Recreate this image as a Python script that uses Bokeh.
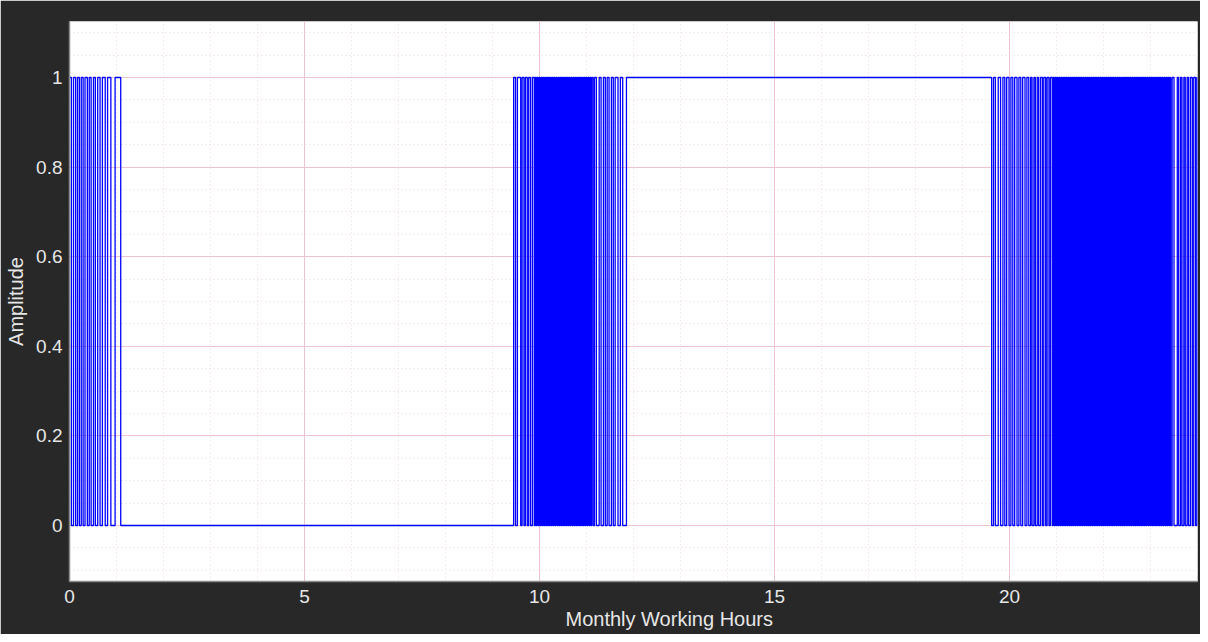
from bokeh.plotting import figure
from bokeh.models import FixedTicker, Range1d, Title
from bokeh.embed import file_html
from bokeh.resources import INLINE

# Switching signal: initial level and edge (transition) times in hours
initial_level = 1
edges_burst1 = [0.04, 0.085, 0.13, 0.17, 0.21, 0.25, 0.29, 0.33, 0.38, 0.42,
                0.46, 0.51, 0.55, 0.60, 0.65, 0.70, 0.76, 0.81, 0.88, 0.97, 1.09]
edges_burst2 = [9.45, 9.49, 9.53, 9.60, 9.63, 9.67, 9.70, 9.74, 9.77, 9.81, 9.85,
                9.89, 9.91, 9.93, 9.95, 9.97, 9.99, 10.01, 10.03, 10.05, 10.07,
                10.09, 10.11, 10.13, 10.15, 10.17, 10.19, 10.21, 10.23, 10.25, 10.27,
                10.29, 10.31, 10.33, 10.35, 10.37, 10.39, 10.41, 10.43, 10.45, 10.47,
                10.49, 10.51, 10.53, 10.55, 10.57, 10.59, 10.61, 10.63, 10.65, 10.67,
                10.69, 10.71, 10.73, 10.75, 10.77, 10.79, 10.81, 10.83, 10.85, 10.87,
                10.89, 10.91, 10.93, 10.95, 10.97, 10.99, 11.01, 11.03, 11.05, 11.07,
                11.09, 11.11, 11.14,
                11.17, 11.21, 11.27, 11.31, 11.36, 11.40, 11.44, 11.48, 11.53, 11.57,
                11.61, 11.67, 11.72, 11.77, 11.85]
edges_burst3 = [19.62, 19.66, 19.70, 19.76, 19.81, 19.86, 19.90, 19.94, 19.99, 20.03,
                20.07, 20.11, 20.16, 20.20, 20.24, 20.28, 20.33, 20.37, 20.41, 20.45,
                20.48, 20.52, 20.55, 20.59, 20.62, 20.66, 20.70, 20.73, 20.77, 20.80,
                20.84, 20.87, 20.91,
                20.93, 20.95, 20.97, 20.99, 21.01, 21.03, 21.05, 21.07, 21.09, 21.11,
                21.13, 21.15, 21.17, 21.19, 21.21, 21.23, 21.25, 21.27, 21.29, 21.31,
                21.33, 21.35, 21.37, 21.39, 21.41, 21.43, 21.45, 21.47, 21.49, 21.51,
                21.53, 21.55, 21.57, 21.59, 21.61, 21.63, 21.65, 21.67, 21.69, 21.71,
                21.73, 21.75, 21.77, 21.79, 21.81, 21.83, 21.85, 21.87, 21.89, 21.91,
                21.93, 21.95, 21.97, 21.99, 22.01, 22.03, 22.05, 22.07, 22.09, 22.11,
                22.13, 22.15, 22.17, 22.19, 22.21, 22.23, 22.25, 22.27, 22.29, 22.31,
                22.33, 22.35, 22.37, 22.39, 22.41, 22.43, 22.45, 22.47, 22.49, 22.51,
                22.53, 22.55, 22.57, 22.59, 22.61, 22.63, 22.65, 22.67, 22.69, 22.71,
                22.73, 22.75, 22.77, 22.79, 22.81, 22.83, 22.85, 22.87, 22.89, 22.91,
                22.93, 22.95, 22.97, 22.99, 23.01, 23.03, 23.05, 23.07, 23.09, 23.11,
                23.13, 23.15, 23.17, 23.19, 23.21, 23.23, 23.25, 23.27, 23.29, 23.31,
                23.33, 23.35, 23.37, 23.39, 23.41, 23.43,
                23.46, 23.50, 23.57, 23.60, 23.64, 23.67, 23.71, 23.74, 23.78, 23.81,
                23.85, 23.89, 23.92, 23.96, 23.99]
t_end = 24

x_ticks = [0, 5, 10, 15, 20]
y_ticks = [0, 0.2, 0.4, 0.6, 0.8, 1]
y_tick_labels = ["0", "0.2", "0.4", "0.6", "0.8", "1"]
x_title = "Monthly Working Hours"
y_title = "Amplitude"

# build step polyline from edges
xs, ys = [0], [initial_level]
level = initial_level
for t in edges_burst1 + edges_burst2 + edges_burst3:
    xs.append(t); ys.append(level)
    level = 1 - level
    xs.append(t); ys.append(level)
xs.append(t_end); ys.append(level)

BG = "#282828"
FONT = "Liberation Sans"
TXT = "#e6e6e6"

p = figure(width=1200, height=634, output_backend="svg", toolbar_location=None,
           x_range=Range1d(0, 24), y_range=Range1d(-0.125, 1.125),
           min_border_left=69, min_border_right=3, min_border_top=21, min_border_bottom=53)
p.background_fill_color = "white"
p.border_fill_color = BG
p.outline_line_color = None

p.line(xs, ys, line_color="#0000ff", line_width=1.3)

p.xaxis.ticker = FixedTicker(ticks=x_ticks, minor_ticks=list(range(0, 25)))
p.yaxis.ticker = FixedTicker(ticks=y_ticks,
                             minor_ticks=[round(-0.1 + 0.05 * i, 2) for i in range(25)])
p.yaxis.major_label_overrides = {v: s for v, s in zip(y_ticks, y_tick_labels)}
p.xaxis.major_label_overrides = {v: str(v) for v in x_ticks}

for ax in (p.xaxis, p.yaxis):
    ax.axis_line_color = "#8a8a8a"
    ax.axis_line_width = 1.5
    ax.major_tick_line_color = None
    ax.minor_tick_line_color = None
    ax.major_tick_out = 0
    ax.major_tick_in = 0
    ax.minor_tick_out = 0
    ax.minor_tick_in = 0
    ax.major_label_text_color = TXT
    ax.major_label_text_font = FONT
    ax.major_label_text_font_size = "19px"
    ax.axis_label_text_color = TXT
    ax.axis_label_text_font = FONT
    ax.axis_label_text_font_size = "20px"
    ax.axis_label_text_font_style = "normal"

p.yaxis.axis_label = y_title
p.xaxis.major_label_standoff = 8
p.yaxis.major_label_standoff = 7
p.yaxis.axis_label_standoff = 6

# x title sits right of centre in the reference
t = Title(text=x_title, align="left", offset=496, text_color=TXT, text_font=FONT,
          text_font_size="20px", text_font_style="normal", standoff=0)
p.add_layout(t, "below")

for g in (p.xgrid, p.ygrid):
    g.grid_line_color = "#eec4d0"
    g.grid_line_width = 1
    g.minor_grid_line_color = "#ecdcdc"
    g.minor_grid_line_dash = "1 3"
    g.minor_grid_line_width = 1

open("out.html", "w").write(file_html(p, INLINE))
